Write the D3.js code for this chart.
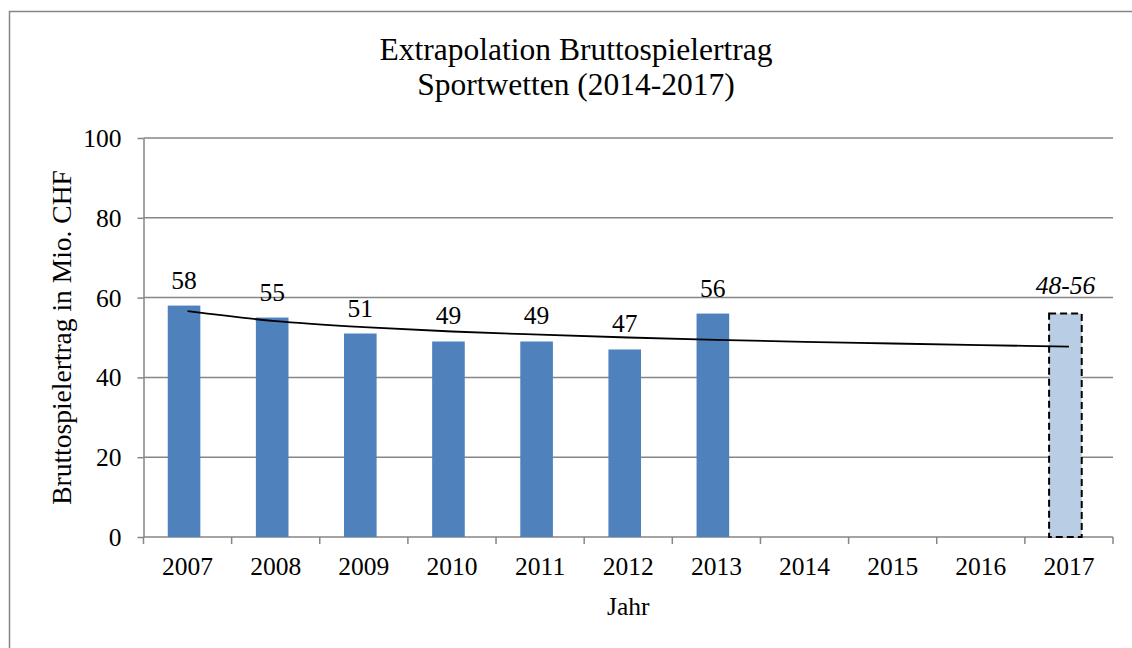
<!DOCTYPE html>
<html>
<head>
<meta charset="utf-8">
<script src="https://cdn.jsdelivr.net/npm/d3@7"></script>
<style>
  body { margin: 0; background: #fff; }
  text { font-family: "Liberation Serif", "Times New Roman", serif; fill: #000; }
</style>
</head>
<body>
<div id="chart"></div>
<script>
// data
var years = ["2007", "2008", "2009", "2010", "2011", "2012", "2013", "2014", "2015", "2016", "2017"];
var actualYears = ["2007", "2008", "2009", "2010", "2011", "2012", "2013"];
var actualValues = [58, 55, 51, 49, 49, 47, 56];
var estimateYear = "2017";
var estimateRange = [48, 56];
var trendValues = [56.6, 54.1, 52.6, 51.5, 50.7, 50.0, 49.4, 48.9, 48.5, 48.1, 47.7];
var yTicks = [0, 20, 40, 60, 80, 100];

var W = 1132, H = 648;
var margin = {top: 138, right: 19, bottom: 111, left: 143.5};
var width = W - margin.left - margin.right,
    height = H - margin.top - margin.bottom;
var grey = "#868686";

var svg = d3.select("#chart")
  .append("svg")
    .attr("width", W)
    .attr("height", H);

// outer frame
svg.append("rect")
  .attr("x", 9.5).attr("y", 11.5)
  .attr("width", W + 20).attr("height", H + 20)
  .attr("fill", "none")
  .attr("stroke", grey)
  .attr("stroke-width", 1.5);

// title
var title = svg.append("text")
  .attr("text-anchor", "middle")
  .style("font-size", "31.5px");
title.append("tspan").attr("x", 576).attr("y", 60).text("Extrapolation Bruttospielertrag");
title.append("tspan").attr("x", 576).attr("y", 95).text("Sportwetten (2014-2017)");

var g = svg.append("g")
  .attr("transform", "translate(" + margin.left + "," + margin.top + ")");

var x = d3.scaleBand()
  .domain(years)
  .range([0, width]);

var y = d3.scaleLinear()
  .domain([0, 100])
  .range([height, 0]);

// gridlines
g.selectAll(".grid")
  .data(yTicks.filter(function(d) { return d > 0; }))
  .enter().append("line")
    .attr("x1", 0).attr("x2", width)
    .attr("y1", function(d) { return y(d); })
    .attr("y2", function(d) { return y(d); })
    .attr("stroke", grey)
    .attr("stroke-width", 1.5);

// Y axis
var yAxis = g.append("g")
  .call(d3.axisLeft(y).tickValues(yTicks).tickSize(6).tickPadding(16).tickSizeOuter(0));
yAxis.select(".domain").attr("stroke", grey).attr("stroke-width", 1.5);
yAxis.selectAll(".tick line").attr("stroke", grey).attr("stroke-width", 1.5);
yAxis.selectAll("text").style("font-size", "25.5px").attr("fill", "#000").attr("dy", "0.33em");

// X axis (ticks between categories)
var xAxis = g.append("g")
  .attr("transform", "translate(0," + height + ")");
xAxis.append("line")
  .attr("x1", 0).attr("x2", width)
  .attr("stroke", grey).attr("stroke-width", 1.5);
var bounds = years.map(function(d) { return x(d); }).concat([width]);
xAxis.selectAll(".xtick")
  .data(bounds)
  .enter().append("line")
    .attr("x1", function(d) { return d; })
    .attr("x2", function(d) { return d; })
    .attr("y1", 0).attr("y2", 7)
    .attr("stroke", grey).attr("stroke-width", 1.5);
xAxis.selectAll(".xlabel")
  .data(years)
  .enter().append("text")
    .attr("x", function(d) { return x(d) + x.bandwidth() / 2; })
    .attr("y", 38)
    .attr("text-anchor", "middle")
    .style("font-size", "25.5px")
    .text(function(d) { return d; });

// bars
var barW = x.bandwidth() * 0.37;
var shift = -x.bandwidth() * 0.04;
function barX(d) { return x(d) + x.bandwidth() / 2 - barW / 2 + shift; }

var actual = actualYears.map(function(d, i) { return {year: d, value: actualValues[i]}; });

g.selectAll(".bar")
  .data(actual)
  .enter().append("rect")
    .attr("x", function(d) { return barX(d.year); })
    .attr("y", function(d) { return y(d.value); })
    .attr("width", barW)
    .attr("height", function(d) { return height - y(d.value); })
    .attr("fill", "#4f81bd");

g.selectAll(".barlabel")
  .data(actual)
  .enter().append("text")
    .attr("x", function(d) { return barX(d.year) + barW / 2; })
    .attr("y", function(d) { return y(d.value) - 17; })
    .attr("text-anchor", "middle")
    .style("font-size", "25.5px")
    .text(function(d) { return d.value; });

// estimate bar 2017
g.append("rect")
  .attr("x", barX(estimateYear))
  .attr("y", y(estimateRange[1]))
  .attr("width", barW)
  .attr("height", height - y(estimateRange[1]))
  .attr("fill", "#b9cde5")
  .attr("stroke", "#000")
  .attr("stroke-width", 2)
  .attr("stroke-dasharray", "7,4");

g.append("text")
  .attr("x", barX(estimateYear) + barW / 2)
  .attr("y", y(estimateRange[1]) - 20)
  .attr("text-anchor", "middle")
  .style("font-size", "25.5px")
  .style("font-style", "italic")
  .text(estimateRange[0] + "-" + estimateRange[1]);

// trend line
g.append("path")
  .datum(trendValues)
  .attr("fill", "none")
  .attr("stroke", "#000")
  .attr("stroke-width", 1.8)
  .attr("d", d3.line()
    .curve(d3.curveMonotoneX)
    .x(function(d, i) { return x(years[i]) + x.bandwidth() / 2; })
    .y(function(d) { return y(d); }));

// axis titles
svg.append("text")
  .attr("transform", "translate(71," + (margin.top + height / 2) + ") rotate(-90)")
  .attr("text-anchor", "middle")
  .style("font-size", "27.5px")
  .text("Bruttospielertrag in Mio. CHF");

svg.append("text")
  .attr("x", margin.left + width / 2)
  .attr("y", 615)
  .attr("text-anchor", "middle")
  .style("font-size", "25.5px")
  .text("Jahr");
</script>
</body>
</html>
